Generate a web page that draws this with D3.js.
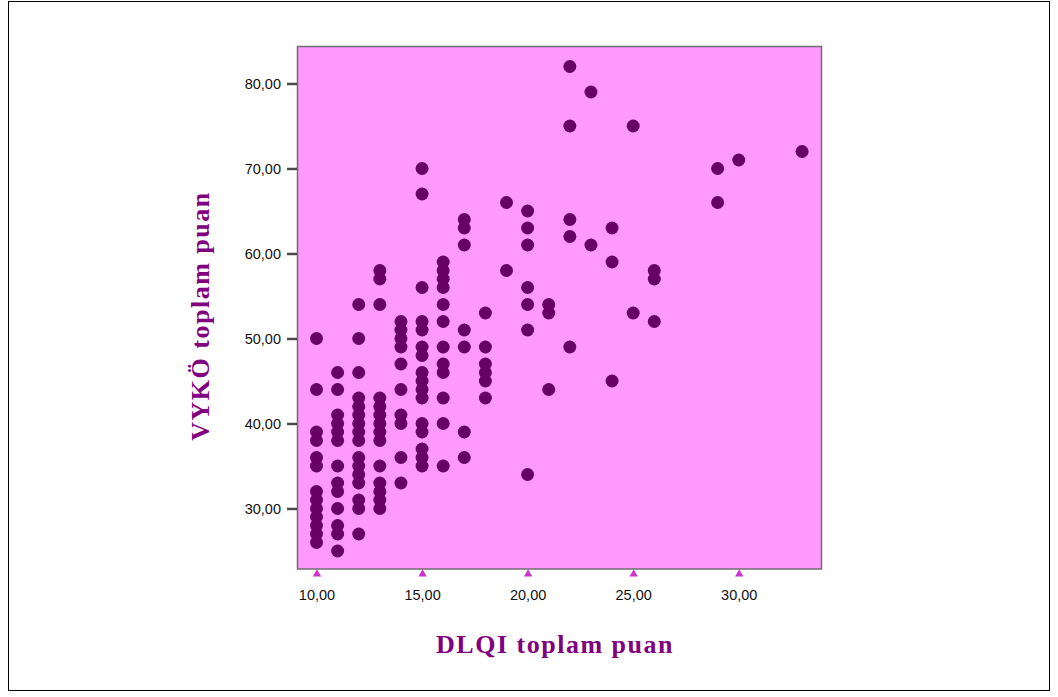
<!DOCTYPE html>
<html>
<head>
<meta charset="utf-8">
<script src="https://cdn.jsdelivr.net/npm/d3@7"></script>
<style>
  body { margin: 0; background: #fff; }
  svg { display: block; }
</style>
</head>
<body>
<svg id="chart"></svg>
<script>
// DLQI score levels and the VYKÖ scores seen at each level
const dlqiLevels = [10, 11, 12, 13, 14, 15, 16, 17, 18, 19, 20, 21, 22, 23, 24, 25, 26, 29, 30, 33];
const vykoByLevel = [
    [50, 44, 39, 38, 36, 35, 32, 31, 30, 29, 28, 27, 26],
    [46, 44, 41, 40, 39, 38, 35, 33, 32, 30, 28, 27, 25],
    [54, 50, 46, 43, 42, 41, 40, 39, 38, 36, 35, 34, 33, 31, 30, 27],
    [58, 57, 54, 43, 42, 41, 40, 39, 38, 35, 33, 32, 31, 30],
    [52, 51, 50, 49, 47, 44, 41, 40, 36, 33],
    [70, 67, 56, 52, 51, 49, 48, 46, 45, 44, 43, 40, 39, 37, 36, 35],
    [59, 58, 57, 56, 54, 52, 49, 47, 46, 43, 40, 35],
    [64, 63, 61, 51, 49, 39, 36],
    [53, 49, 47, 46, 45, 43],
    [66, 58],
    [65, 63, 61, 56, 54, 51, 34],
    [54, 53, 44],
    [82, 75, 64, 62, 49],
    [79, 61],
    [63, 59, 45],
    [75, 53],
    [58, 57, 52],
    [70, 66],
    [71],
    [72]
];
const xTicks = [10, 15, 20, 25, 30];
const yTicks = [30, 40, 50, 60, 70, 80];
const xTitle = "DLQI toplam puan";
const yTitle = "VYKÖ toplam puan";

const width = 1058;
const height = 697;
const plot = {left: 297.5, top: 46.5, right: 821.5, bottom: 569};

const points = dlqiLevels.flatMap((d, i) => vykoByLevel[i].map(v => ({dlqi: d, vyko: v})));

const x = d3.scaleLinear([9.1, 33.92], [plot.left, plot.right]);
const y = d3.scaleLinear([22.88, 84.35], [plot.bottom, plot.top]);

// turkish style decimals: 80,00
const fmt = d3.formatLocale({decimal: ",", thousands: ".", grouping: [3], currency: ["", ""]}).format(".2f");

const svg = d3.select("#chart").attr("width", width).attr("height", height);

// outer frame
svg.append("rect")
    .attr("x", 8.5).attr("y", 1.5)
    .attr("width", 1041).attr("height", 689)
    .attr("fill", "none").attr("stroke", "#000").attr("stroke-width", 1);

svg.append("rect")
    .attr("x", plot.left).attr("y", plot.top)
    .attr("width", plot.right - plot.left).attr("height", plot.bottom - plot.top)
    .attr("fill", "#ff99ff")
    .attr("stroke", "#6e6e6e").attr("stroke-width", 1.5);

const yAxis = g => g
    .attr("transform", `translate(${plot.left - 0.5},0)`)
    .call(d3.axisLeft(y).tickValues(yTicks).tickFormat(fmt).tickSize(10).tickPadding(6))
    .call(g => g.select(".domain").remove())
    .call(g => g.selectAll(".tick line").attr("stroke", "#4a4a4a").attr("stroke-width", 2.5))
    .call(g => g.selectAll(".tick text")
        .attr("fill", "#111")
        .attr("font-family", "'Liberation Sans', Arial, sans-serif")
        .attr("font-size", 14.5));

const xAxis = g => g
    .attr("transform", `translate(0,${plot.bottom})`)
    .call(d3.axisBottom(x).tickValues(xTicks).tickFormat(fmt).tickSize(0).tickPadding(21))
    .call(g => g.select(".domain").remove())
    .call(g => g.selectAll(".tick text")
        .attr("fill", "#111")
        .attr("font-family", "'Liberation Sans', Arial, sans-serif")
        .attr("font-size", 14.5))
    .call(g => g.selectAll(".tick").append("path")
        .attr("d", d3.symbol(d3.symbolTriangle, 30))
        .attr("transform", "translate(0,5)")
        .attr("fill", "#cc33cc"));

svg.append("g").call(yAxis);
svg.append("g").call(xAxis);

svg.append("g")
    .attr("fill", "#660066")
    .selectAll("circle")
    .data(points)
    .join("circle")
    .attr("cx", d => x(d.dlqi))
    .attr("cy", d => y(d.vyko))
    .attr("r", 6.5);

svg.append("text")
    .attr("x", 555).attr("y", 653)
    .attr("text-anchor", "middle")
    .attr("fill", "#800080")
    .attr("font-family", "'Liberation Serif', 'Times New Roman', serif")
    .attr("font-weight", "bold")
    .attr("font-size", 26)
    .attr("letter-spacing", 1.5)
    .text(xTitle);

svg.append("text")
    .attr("transform", "translate(209,316) rotate(-90)")
    .attr("text-anchor", "middle")
    .attr("fill", "#800080")
    .attr("font-family", "'Liberation Serif', 'Times New Roman', serif")
    .attr("font-weight", "bold")
    .attr("font-size", 26)
    .attr("letter-spacing", 1.5)
    .text(yTitle);
</script>
</body>
</html>
